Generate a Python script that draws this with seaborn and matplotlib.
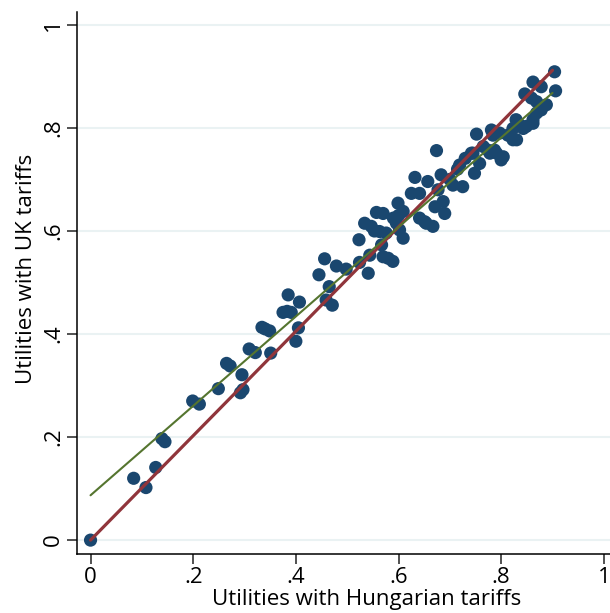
import numpy as np
import pandas as pd
import matplotlib
matplotlib.use("Agg")
import matplotlib.pyplot as plt
import seaborn as sns

# utilities
hu = [0.000, 0.084, 0.108, 0.127, 0.139, 0.145, 0.199, 0.212, 0.249, 0.265,
      0.272, 0.295, 0.292, 0.297, 0.309, 0.321, 0.334, 0.340, 0.349, 0.351,
      0.385, 0.407, 0.375, 0.391, 0.383, 0.405, 0.400, 0.465, 0.459, 0.471,
      0.456, 0.445, 0.479, 0.498, 0.524, 0.541, 0.544, 0.523, 0.534, 0.547,
      0.557, 0.570, 0.563, 0.576, 0.567, 0.570, 0.580, 0.589, 0.599, 0.609,
      0.596, 0.609, 0.602, 0.625, 0.641, 0.641, 0.651, 0.667, 0.671, 0.687,
      0.690, 0.553, 0.590, 0.600, 0.632, 0.657, 0.674, 0.683, 0.677, 0.654,
      0.706, 0.725, 0.719, 0.742, 0.748, 0.758, 0.765, 0.778, 0.787, 0.800,
      0.752, 0.781, 0.784, 0.797, 0.823, 0.843, 0.862, 0.904, 0.906, 0.862,
      0.878, 0.846, 0.859, 0.869, 0.888, 0.878, 0.869, 0.862, 0.849, 0.829,
      0.836, 0.823, 0.830, 0.813, 0.774, 0.791, 0.804, 0.745, 0.730, 0.700,
      0.715]
uk = [0.000, 0.120, 0.102, 0.141, 0.197, 0.191, 0.270, 0.264, 0.294, 0.343,
      0.338, 0.321, 0.286, 0.292, 0.371, 0.364, 0.413, 0.410, 0.406, 0.363,
      0.476, 0.462, 0.442, 0.442, 0.444, 0.412, 0.386, 0.492, 0.466, 0.456,
      0.546, 0.515, 0.532, 0.526, 0.539, 0.518, 0.553, 0.583, 0.615, 0.609,
      0.636, 0.634, 0.599, 0.596, 0.573, 0.550, 0.547, 0.541, 0.654, 0.638,
      0.615, 0.586, 0.602, 0.673, 0.673, 0.625, 0.618, 0.609, 0.647, 0.657,
      0.634, 0.600, 0.625, 0.630, 0.704, 0.696, 0.756, 0.709, 0.680, 0.615,
      0.689, 0.686, 0.728, 0.751, 0.712, 0.731, 0.764, 0.751, 0.757, 0.738,
      0.788, 0.796, 0.786, 0.790, 0.777, 0.799, 0.809, 0.909, 0.872, 0.889,
      0.880, 0.866, 0.858, 0.851, 0.845, 0.835, 0.829, 0.816, 0.803, 0.816,
      0.806, 0.799, 0.777, 0.786, 0.757, 0.751, 0.744, 0.751, 0.741, 0.700,
      0.720]

# fitted lines
red_x = [0.0, 0.900]
red_y = [0.0, 0.912]
green_x = [0.0, 0.900]
green_y = [0.087, 0.868]

ticks = [0, 0.2, 0.4, 0.6, 0.8, 1.0]
tick_labels = ["0", ".2", ".4", ".6", ".8", "1"]

df = pd.DataFrame({"hu": hu, "uk": uk})

sns.set_style("white")
plt.rcParams["font.family"] = ["Open Sans", "DejaVu Sans"]

fig = plt.figure(figsize=(6.10, 6.13), dpi=100)
ax = fig.add_axes([0.1257, 0.0962, 0.8743, 0.8842])

sns.scatterplot(data=df, x="hu", y="uk", ax=ax, color="#1a476f",
                s=90, edgecolor="none", zorder=3)
ax.plot(red_x, red_y, color="#90353b", lw=2.3, zorder=4)
ax.plot(green_x, green_y, color="#55752f", lw=1.5, zorder=5)

ax.set_xlim(-0.027, 1.012)
ax.set_ylim(-0.027, 1.025)
ax.set_xticks(ticks)
ax.set_xticklabels(tick_labels, fontsize=16)
ax.set_yticks(ticks)
ax.set_yticklabels(tick_labels, fontsize=16, rotation=90, va="center")
ax.tick_params(axis="both", direction="out", length=7, width=1.2,
               color="#333333", labelcolor="black", pad=2,
               bottom=True, left=True)

ax.yaxis.grid(True, color="#eaf2f3", lw=1.5)
ax.xaxis.grid(False)
ax.set_axisbelow(True)
for side in ["top", "right"]:
    ax.spines[side].set_visible(False)
for side in ["left", "bottom"]:
    ax.spines[side].set_color("black")
    ax.spines[side].set_linewidth(1.1)

ax.set_xlabel("Utilities with Hungarian tariffs", fontsize=16,
              fontweight="medium", color="black")
ax.set_ylabel("Utilities with UK tariffs", fontsize=16,
              fontweight="medium", color="black")
ax.xaxis.set_label_coords(0.544, -0.065)
ax.yaxis.set_label_coords(-0.075, 0.526)

fig.savefig("out.png", dpi=100)
